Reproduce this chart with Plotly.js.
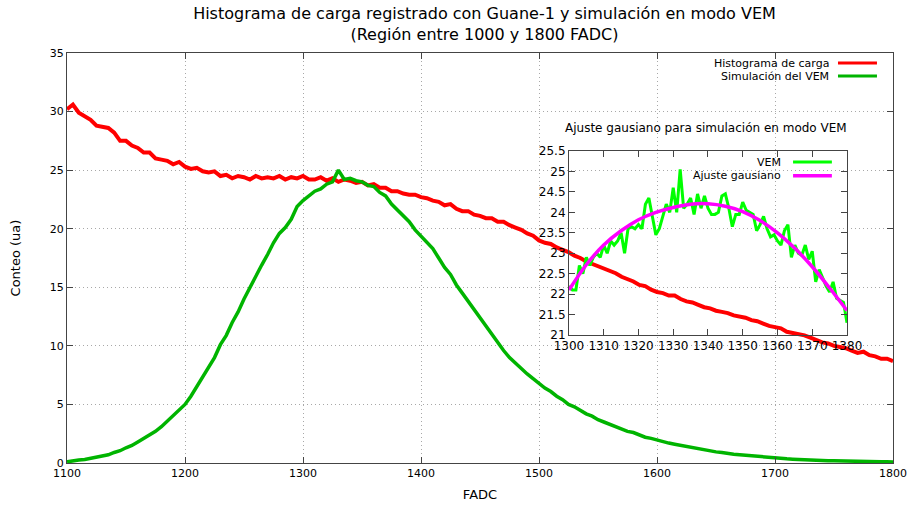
<!DOCTYPE html>
<html>
<head>
<meta charset="utf-8">
<script src="https://cdn.plot.ly/plotly-3.0.1.min.js"></script>
<style>html,body{margin:0;padding:0;background:#fff;}#chart{width:909px;height:506px;}</style>
</head>
<body>
<div id="chart"></div>
<script>
// ---- Data ----
// Main histogram: FADC bins from 1100 to 1800, every 5 units
const fadcStart = 1100;
const fadcStep = 5;
const histCarga = [
  30.2,30.6,29.9,29.6,29.3,28.8,28.7,28.6,28.2,27.5,
  27.5,27.1,26.9,26.5,26.5,26.0,25.9,25.8,25.5,25.7,
  25.3,25.1,25.2,24.9,24.8,24.9,24.5,24.6,24.3,24.5,
  24.4,24.2,24.5,24.3,24.4,24.3,24.5,24.2,24.4,24.3,
  24.5,24.2,24.2,24.4,24.1,24.3,24.0,24.2,24.1,23.9,
  24.0,23.7,23.8,23.5,23.5,23.2,23.2,23.0,22.9,22.9,
  22.7,22.6,22.4,22.3,22.0,22.1,21.7,21.5,21.5,21.2,
  21.1,20.9,20.9,20.6,20.6,20.3,20.1,19.9,19.6,19.4,
  19.0,18.8,18.7,18.4,18.2,18.0,17.7,17.5,17.2,17.0,
  16.8,16.6,16.4,16.2,15.9,15.7,15.5,15.2,15.1,14.8,
  14.6,14.5,14.3,14.3,14.0,13.8,13.7,13.5,13.3,13.2,
  13.0,12.9,12.8,12.6,12.5,12.4,12.2,12.1,11.9,11.7,
  11.6,11.5,11.2,11.1,11.0,10.9,10.7,10.5,10.3,10.2,
  10.0,9.9,9.8,9.6,9.4,9.5,9.2,9.1,8.9,8.9,
  8.7
];
const simVEM = [
  0.1,0.2,0.25,0.3,0.4,0.45,0.55,0.7,0.9,1.05,
  1.3,1.5,1.8,2.1,2.4,2.7,3.1,3.6,4.0,4.5,
  5.0,5.7,6.5,7.3,8.2,9.0,10.1,10.9,12.0,12.9,
  14.0,15.0,15.9,16.9,17.8,18.8,19.6,20.1,20.8,21.9,
  22.4,22.8,23.2,23.4,23.8,24.0,25.0,24.2,24.3,24.1,
  24.0,23.7,23.6,23.1,22.8,22.1,21.6,21.0,20.6,19.9,
  19.4,18.9,18.3,17.5,16.7,16.1,15.2,14.5,13.8,13.0,
  12.3,11.6,10.9,10.2,9.6,9.0,8.5,8.0,7.6,7.2,
  6.8,6.4,6.1,5.7,5.4,5.0,4.8,4.5,4.2,4.0,
  3.7,3.5,3.3,3.1,2.9,2.7,2.6,2.4,2.2,2.1,
  1.95,1.85,1.7,1.6,1.5,1.4,1.3,1.2,1.1,1.0,
  0.95,0.9,0.8,0.75,0.7,0.65,0.6,0.55,0.5,0.45,
  0.42,0.4,0.36,0.33,0.3,0.28,0.26,0.24,0.22,0.2,
  0.19,0.17,0.16,0.15,0.14,0.13,0.12,0.11,0.1,0.1,
  0.09
];
// Inset: VEM simulation, FADC 1300..1380 every 1 unit
const insetStart = 1300;
const insetVEM = [
  22.2,22.1,22.1,22.7,22.5,22.9,22.7,22.9,23.0,22.9,
  23.2,23.0,23.3,23.2,23.3,23.5,23.0,23.6,23.65,23.6,
  23.7,23.6,24.2,24.35,23.9,23.45,23.6,23.9,24.2,24.0,
  24.6,24.0,25.05,24.1,24.2,24.35,23.95,24.45,24.1,24.4,
  24.1,23.95,23.95,24.0,24.4,24.45,24.1,23.65,23.95,23.95,
  24.25,24.05,24.0,23.95,23.55,23.7,23.9,23.6,23.4,23.45,
  23.3,23.2,23.55,23.7,22.9,23.2,23.0,22.95,23.2,22.85,
  23.05,22.3,22.6,22.4,22.2,22.05,22.3,21.9,21.85,21.8,
  21.3
];
// Gaussian fit read every 5 units
const fitX = [1300,1305,1310,1315,1320,1325,1330,1335,1340,1345,1350,1355,1360,1365,1370,1375,1380];
const fitY = [22.1,22.72,23.2,23.55,23.82,24.0,24.12,24.2,24.21,24.15,24.02,23.8,23.5,23.12,22.67,22.15,21.6];

const mainX = histCarga.map((_, i) => fadcStart + i * fadcStep);
const insetX = insetVEM.map((_, i) => insetStart + i);

const FONT = 'DejaVu Sans, sans-serif';
const axisCol = '#444';
const gridCol = '#a8a8a8';

const traces = [
  {x: mainX, y: histCarga, type: 'scatter', mode: 'lines', name: 'Histograma de carga',
   line: {color: '#ff0000', width: 4}, xaxis: 'x', yaxis: 'y'},
  {x: mainX, y: simVEM, type: 'scatter', mode: 'lines', name: 'Simulación del VEM',
   line: {color: '#00b400', width: 3.5}, xaxis: 'x', yaxis: 'y'},
  {x: insetX, y: insetVEM, type: 'scatter', mode: 'lines', name: 'VEM',
   line: {color: '#00ff00', width: 3}, xaxis: 'x2', yaxis: 'y2'},
  {x: fitX, y: fitY, type: 'scatter', mode: 'lines', name: 'Ajuste gausiano',
   line: {color: '#ff00ff', width: 3.5, shape: 'spline'}, xaxis: 'x2', yaxis: 'y2'}
];

const baseAxis = {
  showline: true, linecolor: axisCol, linewidth: 1, mirror: 'allticks',
  ticks: 'inside', ticklen: 6, tickcolor: axisCol, zeroline: false,
  tickfont: {family: FONT, size: 11, color: '#000'}
};

const layout = {
  width: 909, height: 506,
  margin: {l: 67, r: 16, t: 53, b: 43},
  paper_bgcolor: '#ffffff', plot_bgcolor: 'rgba(0,0,0,0)',
  showlegend: false,
  font: {family: FONT, color: '#000'},
  title: {
    text: 'Histograma de carga registrado con Guane-1 y simulación en modo VEM<br>(Región entre 1000 y 1800 FADC)',
    font: {family: FONT, size: 16, color: '#000'},
    x: 0.533, xanchor: 'center', y: 0.962, yanchor: 'top', yref: 'container'
  },
  xaxis: Object.assign({}, baseAxis, {
    range: [1100, 1800], tick0: 1100, dtick: 100,
    showgrid: true, gridcolor: gridCol, griddash: '1px,3px', gridwidth: 1,
    title: {text: 'FADC', font: {family: FONT, size: 13, color: '#000'}, standoff: 10}
  }),
  yaxis: Object.assign({}, baseAxis, {
    range: [0, 35], tick0: 0, dtick: 5,
    showgrid: true, gridcolor: gridCol, griddash: '1px,3px', gridwidth: 1,
    title: {text: 'Conteo (ua)', font: {family: FONT, size: 13, color: '#000'}, standoff: 26}
  }),
  xaxis2: Object.assign({}, baseAxis, {
    domain: [0.6077, 0.9443], anchor: 'y2',
    range: [1300, 1380], tick0: 1300, dtick: 10, showgrid: false,
    tickfont: {family: FONT, size: 12, color: '#000'}
  }),
  yaxis2: Object.assign({}, baseAxis, {
    domain: [0.312, 0.761], anchor: 'x2',
    range: [21, 25.5], tick0: 21, dtick: 0.5, showgrid: false,
    tickfont: {family: FONT, size: 12, color: '#000'}
  }),
  annotations: [
    {text: 'Histograma de carga', xref: 'paper', yref: 'paper', x: 0.925, y: 0.9756,
     xanchor: 'right', yanchor: 'middle', showarrow: false, font: {family: FONT, size: 11, color: '#000'}},
    {text: 'Simulación del VEM', xref: 'paper', yref: 'paper', x: 0.925, y: 0.9439,
     xanchor: 'right', yanchor: 'middle', showarrow: false, font: {family: FONT, size: 11, color: '#000'}},
    {text: 'Ajuste gausiano para simulación en modo VEM', xref: 'paper', yref: 'paper', x: 0.7736, y: 0.817,
     xanchor: 'center', yanchor: 'middle', showarrow: false, font: {family: FONT, size: 12, color: '#000'}},
    {text: 'VEM', xref: 'paper', yref: 'paper', x: 0.8668, y: 0.7341,
     xanchor: 'right', yanchor: 'middle', showarrow: false, font: {family: FONT, size: 11, color: '#000'}},
    {text: 'Ajuste gausiano', xref: 'paper', yref: 'paper', x: 0.8668, y: 0.7007,
     xanchor: 'right', yanchor: 'middle', showarrow: false, font: {family: FONT, size: 11, color: '#000'}}
  ],
  shapes: [
    {type: 'line', xref: 'paper', yref: 'paper', x0: 0.9334, x1: 0.9806, y0: 0.9756, y1: 0.9756,
     line: {color: '#ff0000', width: 3}},
    {type: 'line', xref: 'paper', yref: 'paper', x0: 0.9334, x1: 0.9806, y0: 0.9439, y1: 0.9439,
     line: {color: '#00b400', width: 3}},
    {type: 'line', xref: 'paper', yref: 'paper', x0: 0.879, x1: 0.926, y0: 0.7341, y1: 0.7341,
     line: {color: '#00ff00', width: 3}},
    {type: 'line', xref: 'paper', yref: 'paper', x0: 0.879, x1: 0.926, y0: 0.7007, y1: 0.7007,
     line: {color: '#ff00ff', width: 3.5}}
  ]
};

Plotly.newPlot('chart', traces, layout, {displayModeBar: false, staticPlot: true});
</script>
</body>
</html>
